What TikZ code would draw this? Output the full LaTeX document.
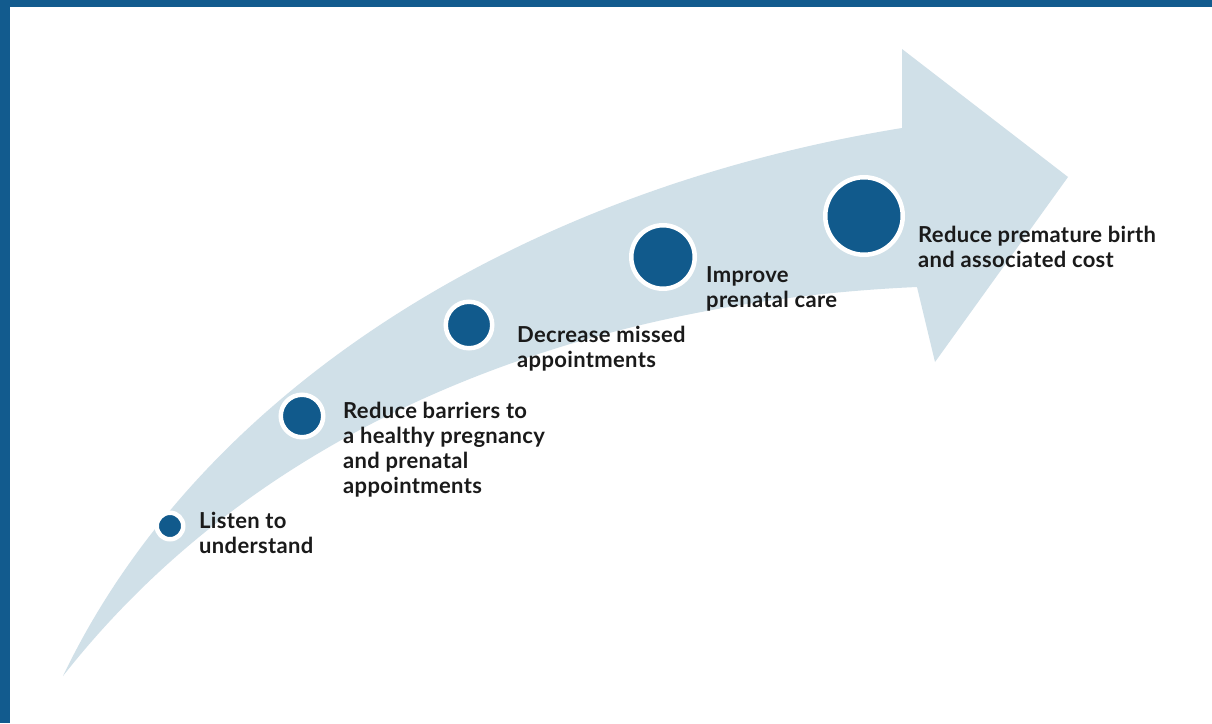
\documentclass[tikz,border=0pt]{standalone}
\usepackage{fontspec}
\setmainfont{Lato}[LetterSpace=1.5]
\definecolor{frameblue}{HTML}{125B8E}
\definecolor{dotblue}{HTML}{115A8C}
\definecolor{arrowfill}{HTML}{D0E0E8}
\definecolor{labeltext}{HTML}{1A1A1A}
\tikzset{
  dot/.style={circle, fill=dotblue, draw=white, line width=4.5pt, inner sep=0pt},
  lbl/.style={anchor=base west, inner sep=0pt, text=labeltext,
    font=\fontsize{22}{25}\selectfont\bfseries},
}
\newcommand{\twolines}[1]{\begin{tabular}[t]{@{}l@{}}#1\end{tabular}}
\begin{document}
\begin{tikzpicture}[x=1pt,y=-1pt]
\useasboundingbox (0,0) rectangle (1212,723);
\fill[white] (0,0) rectangle (1212,723);
% frame
\fill[frameblue] (0,0) rectangle (1212,7);
\fill[frameblue] (0,0) rectangle (10,723);
% arrow
\fill[arrowfill] (63,676) .. controls (200,390) and (520,190) .. (902,128)
  -- (902,49) -- (1068,177) -- (935,362) -- (917,287)
  .. controls (620,300) and (280,400) .. (63,676) -- cycle;
% dots
\node[dot, minimum size=22pt+4.5pt] (d1) at (170,526) {};
\node[dot, minimum size=38pt+4.5pt] (d2) at (302,416) {};
\node[dot, minimum size=42pt+4.5pt] (d3) at (469,325) {};
\node[dot, minimum size=59pt+4.5pt] (d4) at (663,257) {};
\node[dot, minimum size=73pt+4.5pt] (d5) at (864,216) {};
% labels
\node[lbl] (t1) at (199,528) {\twolines{Listen to\\understand}};
\node[lbl] (t2) at (343,418) {\twolines{Reduce barriers to\\a healthy pregnancy\\and prenatal\\appointments}};
\node[lbl] (t3) at (517,342) {\twolines{Decrease missed\\appointments}};
\node[lbl] (t4) at (706,282) {\twolines{Improve\\prenatal care}};
\node[lbl] (t5) at (918,242) {\twolines{Reduce premature birth\\and associated cost}};
\end{tikzpicture}
\end{document}
